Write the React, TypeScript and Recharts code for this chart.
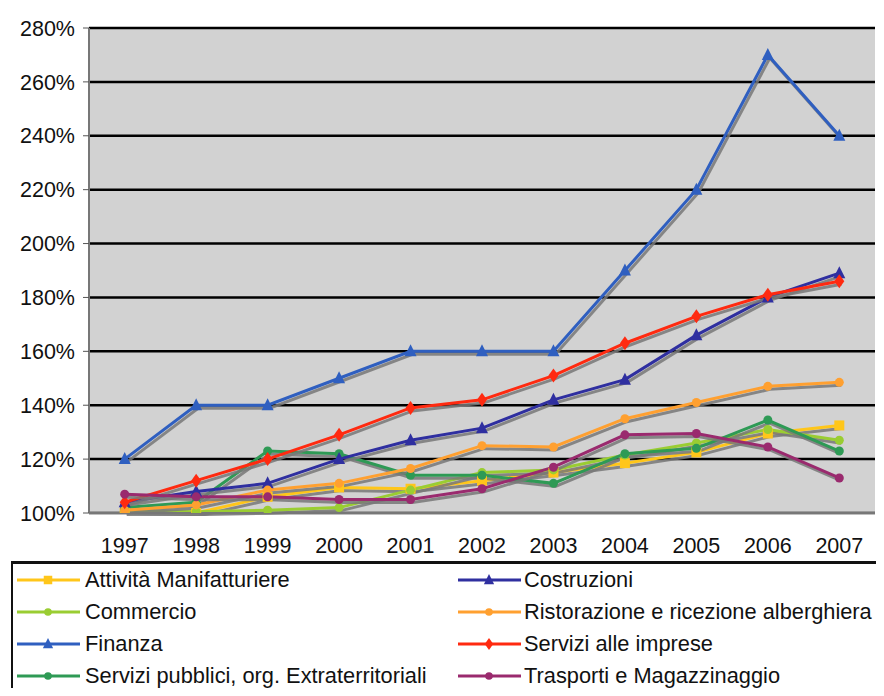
import React from 'react';
import { LineChart, Line, XAxis, YAxis, CartesianGrid, Legend } from 'recharts';

const years = ['1997', '1998', '1999', '2000', '2001', '2002', '2003', '2004', '2005', '2006', '2007'];
const yTicks = [100, 120, 140, 160, 180, 200, 220, 240, 260, 280];

const attivita = [100, 100, 106, 109.5, 109, 112, 115, 118.5, 122.5, 129.5, 132.5];
const commercio = [101, 100.5, 101, 102, 108.5, 115, 116, 121.5, 126, 131, 127];
const finanza = [120, 140, 140, 150, 160, 160, 160, 190, 220, 270, 240];
const serviziPubblici = [102, 104, 123, 122, 114, 114, 111, 122, 124, 134.5, 123];
const costruzioni = [104, 108, 111, 120, 127, 131.5, 142, 149.5, 166, 180, 189];
const ristorazione = [101, 103, 108.5, 111, 116.5, 125, 124.5, 135, 141, 147, 148.5];
const serviziImprese = [104, 112, 120, 129, 139, 142, 151, 163, 173, 181, 186];
const trasporti = [107, 106, 106, 105, 105, 109, 117, 129, 129.5, 124.5, 113];

type Shape = 'square' | 'circle' | 'triangle' | 'diamond';
const series: { key: string; name: string; color: string; shape: Shape; values: number[] }[] = [
  { key: 'attivita', name: 'Attività Manifatturiere', color: '#ffc61a', shape: 'square', values: attivita },
  { key: 'commercio', name: 'Commercio', color: '#9acd32', shape: 'circle', values: commercio },
  { key: 'finanza', name: 'Finanza', color: '#2f5fc0', shape: 'triangle', values: finanza },
  { key: 'pubblici', name: 'Servizi pubblici, org. Extraterritoriali', color: '#2e9a55', shape: 'circle', values: serviziPubblici },
  { key: 'costruzioni', name: 'Costruzioni', color: '#2f2fa0', shape: 'triangle', values: costruzioni },
  { key: 'ristorazione', name: 'Ristorazione e ricezione alberghiera', color: '#ffa030', shape: 'circle', values: ristorazione },
  { key: 'imprese', name: 'Servizi alle imprese', color: '#ff2a10', shape: 'diamond', values: serviziImprese },
  { key: 'trasporti', name: 'Trasporti e Magazzinaggio', color: '#9a2a6e', shape: 'circle', values: trasporti },
];

const data = years.map((y, i) => {
  const row: Record<string, string | number> = { year: y };
  series.forEach((s) => {
    row[s.key] = s.values[i];
  });
  return row;
});

function marker(shape: Shape, color: string, cx: number, cy: number, key?: string | number, scale = 1) {
  const k = scale;
  if (shape === 'square') return <rect key={key} x={cx - 5 * k} y={cy - 5 * k} width={10 * k} height={10 * k} fill={color} />;
  if (shape === 'circle') return <circle key={key} cx={cx} cy={cy} r={4.5 * k} fill={color} />;
  if (shape === 'triangle')
    return (
      <polygon
        key={key}
        points={`${cx},${cy - 7 * k} ${cx + 6 * k},${cy + 5 * k} ${cx - 6 * k},${cy + 5 * k}`}
        fill={color}
      />
    );
  return (
    <polygon
      key={key}
      points={`${cx},${cy - 7 * k} ${cx + 5 * k},${cy} ${cx},${cy + 7 * k} ${cx - 5 * k},${cy}`}
      fill={color}
    />
  );
}

const makeDot = (shape: Shape, color: string) => (props: any) => {
  const { cx, cy, index } = props;
  if (cx == null || cy == null) return <g key={index} />;
  return marker(shape, color, cx, cy, index);
};

const legendOrder = [
  ['attivita', 'costruzioni'],
  ['commercio', 'ristorazione'],
  ['finanza', 'imprese'],
  ['pubblici', 'trasporti'],
];

const LegendBox = () => (
  <div
    style={{
      position: 'absolute',
      left: 11,
      top: 561,
      width: 890,
      height: 150,
      border: '2px solid #111',
      borderTop: '3px solid #111',
      background: '#fff',
      boxSizing: 'border-box',
      fontFamily: '"Liberation Sans", Arial, sans-serif',
      fontSize: 21.8,
      color: '#111',
    }}
  >
    {legendOrder.map((row, r) =>
      row.map((k, c) => {
        const s = series.find((x) => x.key === k)!;
        const lineLeft = c === 0 ? 17 : 458;
        const cy = 580 + r * 32;
        return (
          <div
            key={k}
            style={{
              position: 'absolute',
              left: lineLeft - 11 - 2,
              top: cy - 561 - 3 - 15,
              height: 30,
              display: 'flex',
              alignItems: 'center',
            }}
          >
            <svg width={63} height={20} style={{ marginRight: c === 0 ? 5 : 3, flex: 'none' }}>
              <line x1={0} y1={10} x2={63} y2={10} stroke={s.color} strokeWidth={3} />
              {marker(s.shape, s.color, 31, 10, undefined, 0.85)}
            </svg>
            <span style={{ whiteSpace: 'nowrap' }}>{s.name}</span>
          </div>
        );
      })
    )}
  </div>
);

export default function App() {
  return (
    <div style={{ margin: -8, width: 884, height: 696, background: '#fff', position: 'relative', overflow: 'hidden' }}>
      <style>{`.recharts-line { filter: drop-shadow(2px 3px 0px rgba(120,120,120,0.85)); }`}</style>
      <LineChart
        width={884}
        height={696}
        data={data}
        margin={{ top: 28, right: 9, bottom: 153, left: 0 }}
      >
        <CartesianGrid vertical={false} stroke="#000" strokeWidth={2.5} fill="#d2d2d2" fillOpacity={1} />
        <XAxis
          dataKey="year"
          height={30}
          padding={{ left: 35.7, right: 35.7 }}
          axisLine={{ stroke: '#777', strokeWidth: 2 }}
          tickLine={false}
          tickMargin={19}
          tick={{ fill: '#111', fontSize: 21.5, fontFamily: '"Liberation Sans", Arial, sans-serif' }}
          interval={0}
        />
        <YAxis
          width={89}
          domain={[100, 280]}
          ticks={yTicks}
          tickFormatter={(v) => `${v}%`}
          axisLine={{ stroke: '#777', strokeWidth: 2 }}
          tickLine={{ stroke: '#555' }}
          tickSize={6}
          tickMargin={8}
          tick={{ fill: '#111', fontSize: 21.5, fontFamily: '"Liberation Sans", Arial, sans-serif' }}
          allowDataOverflow
        />
        <YAxis
          yAxisId="right"
          orientation="right"
          width={0}
          tick={false}
          tickLine={false}
          axisLine={{ stroke: '#777', strokeWidth: 2 }}
          domain={[100, 280]}
        />
        {series.map((s) => (
          <Line
            key={s.key}
            dataKey={s.key}
            name={s.name}
            type="linear"
            stroke={s.color}
            strokeWidth={3}
            dot={makeDot(s.shape, s.color)}
            activeDot={false}
            isAnimationActive={false}
          />
        ))}
        <Legend
          content={() => <LegendBox />}
          wrapperStyle={{ position: 'absolute', left: 0, top: 0, width: 0, height: 0, overflow: 'visible' }}
        />
      </LineChart>
    </div>
  );
}
